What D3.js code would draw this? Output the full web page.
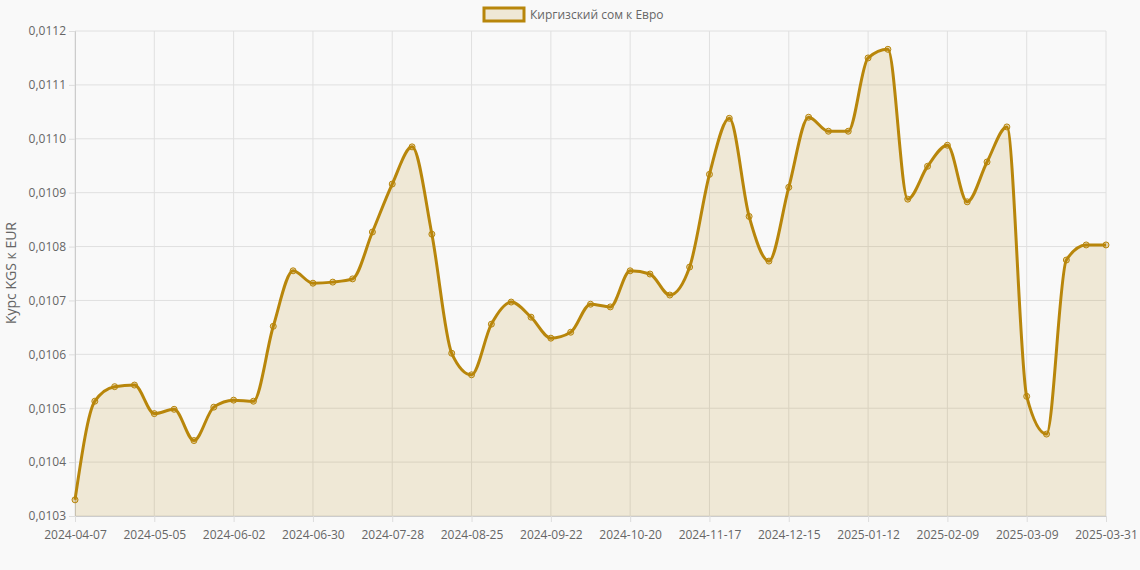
<!DOCTYPE html>
<html><head><meta charset="utf-8">
<script src="https://cdn.jsdelivr.net/npm/d3@7"></script>
<style>body{margin:0;background:#f9f9f9;font-family:"Open Sans",Arial,sans-serif}</style>
</head><body><svg id="c" width="1140" height="570"></svg>
<script>
const dates=["2024-04-07","2024-04-14","2024-04-21","2024-04-28","2024-05-05","2024-05-12","2024-05-19","2024-05-26","2024-06-02","2024-06-09","2024-06-16","2024-06-23","2024-06-30","2024-07-07","2024-07-14","2024-07-21","2024-07-28","2024-08-04","2024-08-11","2024-08-18","2024-08-25","2024-09-01","2024-09-08","2024-09-15","2024-09-22","2024-09-29","2024-10-06","2024-10-13","2024-10-20","2024-10-27","2024-11-03","2024-11-10","2024-11-17","2024-11-24","2024-12-01","2024-12-08","2024-12-15","2024-12-22","2024-12-29","2025-01-05","2025-01-12","2025-01-19","2025-01-26","2025-02-02","2025-02-09","2025-02-16","2025-02-23","2025-03-02","2025-03-09","2025-03-16","2025-03-23","2025-03-30","2025-03-31"];
const values=[0.01033,0.010513,0.01054,0.010543,0.01049,0.010498,0.01044,0.010502,0.010515,0.010513,0.010652,0.010755,0.010732,0.010734,0.01074,0.010827,0.010916,0.010985,0.010823,0.010602,0.010562,0.010656,0.010697,0.010669,0.01063,0.010641,0.010693,0.010688,0.010755,0.010749,0.01071,0.010762,0.010934,0.011038,0.010856,0.010773,0.01091,0.01104,0.011014,0.011014,0.01115,0.011166,0.010888,0.010949,0.010988,0.010883,0.010957,0.011022,0.010522,0.010452,0.010775,0.010803,0.010803];
const yTicks=[0.0103,0.0104,0.0105,0.0106,0.0107,0.0108,0.0109,0.0110,0.0111,0.0112];
const seriesName="Киргизский сом к Евро";
const svg=d3.select("#c");
const L=75,R=1106,T=31,B=516;
const x=d3.scalePoint().domain(dates).range([L,R]);
const y=d3.scaleLinear().domain([0.0103,0.0112]).range([B,T]);
const fmt=v=>v.toFixed(4).replace(".",",");
const xt=dates.filter((d,i)=>i%4===0||i===dates.length-1);
const g=svg.append("g");
g.selectAll(".gy").data(yTicks).join("line").attr("x1",L).attr("x2",R).attr("y1",d=>y(d)).attr("y2",d=>y(d)).attr("stroke","#e0e0e0");
g.selectAll(".gx").data(xt).join("line").attr("x1",d=>x(d)).attr("x2",d=>x(d)).attr("y1",T).attr("y2",B).attr("stroke","#e0e0e0");
const ya=svg.append("g").attr("transform",`translate(${L},0)`).call(d3.axisLeft(y).tickValues(yTicks).tickFormat(fmt).tickSize(6));
const xa=svg.append("g").attr("transform",`translate(0,${B})`).call(d3.axisBottom(x).tickValues(xt).tickSize(6));
[ya,xa].forEach(a=>{a.select(".domain").attr("stroke","#ccc");a.selectAll(".tick line").attr("stroke","#ddd");a.selectAll("text").attr("fill","#666").style("font-size","12px").style("font-family","Open Sans, Arial")});
xa.selectAll("text").attr("dy","1.2em");
const data=dates.map((d,i)=>[d,values[i]]);
svg.append("path").datum(data).attr("d",d3.area().x(d=>x(d[0])).y0(B).y1(d=>y(d[1])).curve(d3.curveMonotoneX)).attr("fill","rgba(184,134,11,0.15)");
svg.append("path").datum(data).attr("d",d3.line().x(d=>x(d[0])).y(d=>y(d[1])).curve(d3.curveMonotoneX)).attr("fill","none").attr("stroke","#b8860b").attr("stroke-width",3);
svg.selectAll(".pt").data(data).join("circle").attr("cx",d=>x(d[0])).attr("cy",d=>y(d[1])).attr("r",3).attr("fill","rgba(184,134,11,0.3)").attr("stroke","#b8860b").attr("stroke-width",1);
svg.append("text").attr("transform","translate(16,273) rotate(-90)").attr("text-anchor","middle").attr("fill","#666").style("font-size","14px").text("Курс KGS к EUR");
svg.append("rect").attr("x",484).attr("y",8).attr("width",40).attr("height",13).attr("fill","rgba(184,134,11,0.15)").attr("stroke","#b8860b").attr("stroke-width",3);
svg.append("text").attr("x",530).attr("y",19).attr("fill","#666").style("font-size","12px").text(seriesName);
</script></body></html>
